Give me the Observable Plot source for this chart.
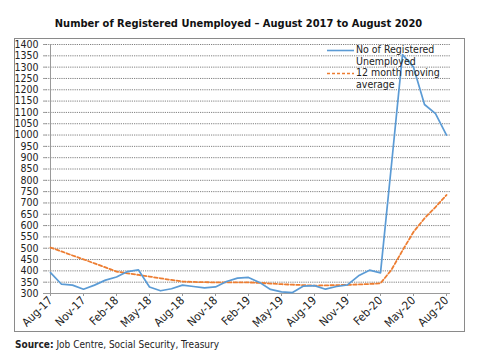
<!DOCTYPE html>
<html>
<head>
<meta charset="utf-8">
<script src="https://cdn.jsdelivr.net/npm/d3@7"></script>
<script src="https://cdn.jsdelivr.net/npm/@observablehq/plot@0.6"></script>
<style>
  html, body { margin: 0; padding: 0; background: #fff; }
  #wrap { position: relative; width: 477px; height: 356px; overflow: hidden; background: #fff;
          font-family: "DejaVu Sans Condensed", "DejaVu Sans", sans-serif; color: #222; }
  #title { position: absolute; left: 0; top: 16px; width: 477px; text-align: center;
           font-weight: bold; font-size: 11px; line-height: 16px; color: #111; }
  #box { position: absolute; left: 14px; top: 38px; width: 451px; height: 294px;
         box-sizing: border-box; border: 1px solid #8a8a8a; }
  #chart { position: absolute; left: 0; top: 38px; }
  #legend { position: absolute; left: 327px; top: 44px; font-size: 10.5px; line-height: 11.5px; color: #222; }
  #legend .row { position: relative; padding-left: 29px; }
  #legend svg { position: absolute; left: 0; top: 0; }
  #source { position: absolute; left: 15px; top: 338px; font-size: 10px; line-height: 14px; color: #222; }
</style>
</head>
<body>
<div id="wrap">
  <div id="title">Number of Registered Unemployed – August 2017 to August 2020</div>
  <div id="box"></div>
  <div id="chart"></div>
  <div id="legend">
    <div class="row"><svg width="28" height="23"><line x1="0" x2="27" y1="6.5" y2="6.5" stroke="#5b9bd5" stroke-width="1.6"/></svg>No of Registered<br>Unemployed</div>
    <div class="row"><svg width="28" height="23"><line x1="0" x2="27" y1="6.5" y2="6.5" stroke="#ed7d31" stroke-width="1.6" stroke-dasharray="3,2"/></svg>12 month moving<br>average</div>
  </div>
  <div id="source"><b>Source:</b> Job Centre, Social Security, Treasury</div>
</div>
<script>
const months = ["Aug-17","Sep-17","Oct-17","Nov-17","Dec-17","Jan-18","Feb-18","Mar-18","Apr-18","May-18","Jun-18","Jul-18",
  "Aug-18","Sep-18","Oct-18","Nov-18","Dec-18","Jan-19","Feb-19","Mar-19","Apr-19","May-19","Jun-19","Jul-19",
  "Aug-19","Sep-19","Oct-19","Nov-19","Dec-19","Jan-20","Feb-20","Mar-20","Apr-20","May-20","Jun-20","Jul-20","Aug-20"];
const registered = [392,341,337,319,337,359,373,397,404,329,312,321,
  337,331,325,329,353,368,371,349,318,307,304,333,
  335,319,331,338,378,403,391,870,1355,1300,1135,1095,1000];
const movingAvg = [503,486,468,451,433,415,397,389,382,375,367,360,
  353,351,350,349,349,349,349,347,344,341,339,337,
  335,336,337,338,340,342,345,405,490,572,632,682,735];
const xTicks = ["Aug-17","Nov-17","Feb-18","May-18","Aug-18","Nov-18","Feb-19","May-19","Aug-19","Nov-19","Feb-20","May-20","Aug-20"];
const yTicks = [300,350,400,450,500,550,600,650,700,750,800,850,900,950,1000,1050,1100,1150,1200,1250,1300,1350,1400];

const rows = months.map((m, i) => ({month: m, registered: registered[i], avg: movingAvg[i]}));

const chart = Plot.plot({
  width: 477,
  height: 294,
  marginTop: 6,
  marginBottom: 39,
  marginLeft: 46,
  marginRight: 27,
  style: {fontFamily: '"DejaVu Sans Condensed", "DejaVu Sans", sans-serif', fontSize: "10.5px", color: "#222", background: "transparent"},
  x: {type: "point", domain: months, padding: 0, label: null},
  y: {domain: [300, 1400], label: null},
  marks: [
    Plot.ruleY(yTicks.filter(d => d > 300), {stroke: "#808080", strokeDasharray: "1.2,1", strokeWidth: 1}),
    Plot.ruleY([300], {stroke: "#9a9a9a"}),
    Plot.ruleX([months[0]], {stroke: "#9a9a9a"}),
    Plot.axisX({ticks: xTicks, tickRotate: -45, tickSize: 3, tickPadding: 2, fontSize: 11.5, stroke: "#9a9a9a", label: null}),
    Plot.axisY({ticks: yTicks, tickFormat: d => String(d), tickSize: 3, tickPadding: 5, fontSize: 10.5, stroke: "#9a9a9a", label: null}),
    Plot.line(rows, {x: "month", y: "avg", stroke: "#ed7d31", strokeWidth: 1.8, strokeDasharray: "3.5,2.2"}),
    Plot.line(rows, {x: "month", y: "registered", stroke: "#5b9bd5", strokeWidth: 1.7})
  ]
});
document.getElementById("chart").appendChild(chart);
</script>
</body>
</html>
